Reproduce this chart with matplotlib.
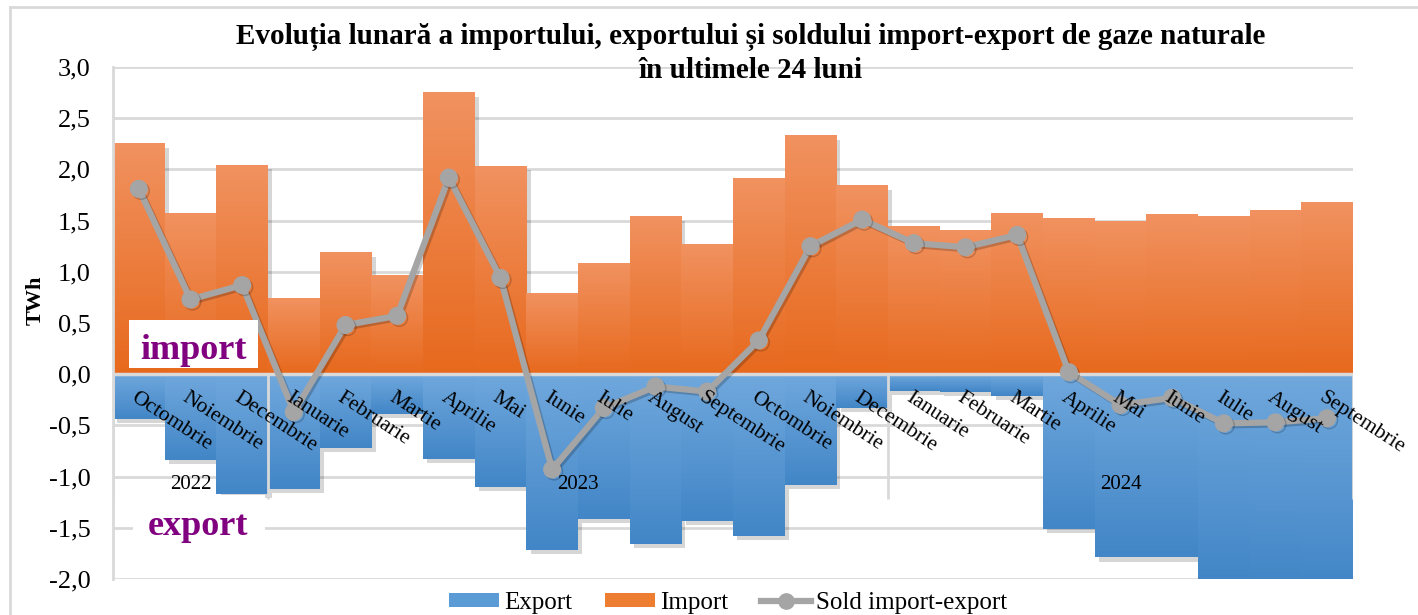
import numpy as np
import matplotlib
matplotlib.use("Agg")
import matplotlib.pyplot as plt
from matplotlib.colors import LinearSegmentedColormap
from matplotlib.patches import Rectangle, Patch
from matplotlib.lines import Line2D
from matplotlib.ticker import FuncFormatter
import matplotlib.patheffects as pe

# ---------------- data ----------------
months = ["Octombrie", "Noiembrie", "Decembrie", "Ianuarie", "Februarie", "Martie",
          "Aprilie", "Mai", "Iunie", "Iulie", "August", "Septembrie",
          "Octombrie", "Noiembrie", "Decembrie", "Ianuarie", "Februarie", "Martie",
          "Aprilie", "Mai", "Iunie", "Iulie", "August", "Septembrie"]
years = ["2022", "2023", "2024"]
months_per_year = [3, 12, 9]

import_vals = [2.25, 1.57, 2.04, 0.74, 1.19, 0.96, 2.75, 2.03, 0.79, 1.08, 1.54, 1.26,
               1.91, 2.33, 1.84, 1.44, 1.40, 1.57, 1.52, 1.49, 1.56, 1.54, 1.60, 1.67]
export_vals = [-0.44, -0.84, -1.17, -1.12, -0.72, -0.39, -0.83, -1.10, -1.72, -1.41, -1.66, -1.43,
               -1.58, -1.08, -0.33, -0.16, -0.17, -0.21, -1.51, -1.79, -1.79, -2.02, -2.07, -2.10]
sold_vals = [1.81, 0.73, 0.87, -0.37, 0.48, 0.57, 1.92, 0.94, -0.93, -0.33, -0.12, -0.17,
             0.33, 1.25, 1.51, 1.28, 1.24, 1.36, 0.02, -0.30, -0.23, -0.48, -0.47, -0.43]

title_text = "Evoluția lunară a importului, exportului și soldului import-export de gaze naturale\nîn ultimele 24 luni"

# ---------------- style ----------------
SERIF = ["Liberation Serif", "DejaVu Serif"]
plt.rcParams["font.family"] = SERIF
GRID = "#D9D9D9"
ORANGE = "#ED7D31"
BLUE = "#5B9BD5"
GRAY = "#A5A5A5"
PURPLE = "#800080"

cmap_or = LinearSegmentedColormap.from_list("or", ["#F19260", "#E7691D"])
cmap_bl = LinearSegmentedColormap.from_list("bl", ["#70A8DD", "#4286C7"])

W, H = 1418, 615
fig = plt.figure(figsize=(W / 100, H / 100), dpi=100)
ax = fig.add_axes([113 / W, 1 - 579 / H, (1353 - 113) / W, (579 - 67) / H])

x = np.arange(len(months))

shadow = [pe.SimplePatchShadow(offset=(3, -3), shadow_rgbFace="k", alpha=0.16), pe.Normal()]
b_exp = ax.bar(x, export_vals, width=1.0, color=BLUE, zorder=2, path_effects=shadow)
b_imp = ax.bar(x, import_vals, width=1.0, color=ORANGE, zorder=2, path_effects=shadow)

grad = np.linspace(0, 1, 256).reshape(-1, 1)
for bars, cm in ((b_exp, cmap_bl), (b_imp, cmap_or)):
    for r in bars:
        x0 = r.get_x()
        x1 = x0 + r.get_width()
        y0 = r.get_y()
        y1 = y0 + r.get_height()
        lo, hi = min(y0, y1), max(y0, y1)
        ax.imshow(grad, extent=(x0, x1, lo, hi), origin="upper", aspect="auto",
                  cmap=cm, zorder=2.2, interpolation="bilinear")

# zero line
ax.axhline(0, color=GRID, lw=2.5, zorder=2.5)

# category group separators
bounds = np.concatenate([[0], np.cumsum(months_per_year)]) - 0.5
ax.vlines(bounds, -1.22, 0, color=GRID, lw=2, zorder=2.6)

# sold line
ax.plot(x, sold_vals, color=GRAY, lw=4.5, marker="o", ms=12, mfc=GRAY, mec=GRAY,
        zorder=4, solid_capstyle="round",
        path_effects=[pe.SimpleLineShadow(offset=(1.5, -1.5), shadow_color="k", alpha=0.2), pe.Normal()])

# month labels
for i, m in enumerate(months):
    ax.text(i - 0.02, -0.14, m, rotation=-33, rotation_mode="anchor", ha="left", va="top",
            fontsize=15.5, color="black", zorder=5)

# year labels
start = 0
for yr, n in zip(years, months_per_year):
    ax.text(start + (n - 1) / 2, -1.08, yr, ha="center", va="center", fontsize=15, zorder=5)
    start += n

# import / export text boxes
ax.add_patch(Rectangle((-0.19, 0.06), 2.5, 0.47, facecolor="white", edgecolor="none", zorder=6))
ax.text(1.06, 0.15, "import", ha="center", va="baseline", fontsize=26, weight="bold",
        color=PURPLE, zorder=7)
ax.add_patch(Rectangle((-0.11, -1.52), 2.55, 0.345, facecolor="white", edgecolor="none", zorder=6))
ax.text(1.15, -1.57, "export", ha="center", va="baseline", fontsize=26, weight="bold",
        color=PURPLE, zorder=7)

# axes styling
ax.set_xlim(-0.5, len(months) - 0.5)
ax.set_ylim(-2.0, 3.0)
ax.set_yticks(np.arange(-2.0, 3.01, 0.5))
ax.yaxis.set_major_formatter(FuncFormatter(lambda v, p: f"{round(v, 1):.1f}".replace(".", ",").replace("-0,0", "0,0")))
ax.set_xticks([])
ax.tick_params(axis="y", length=0, pad=16, labelsize=19)
ax.set_axisbelow(True)
ax.yaxis.grid(True, color=GRID, lw=2, zorder=0)
for s in ("top", "right", "bottom"):
    ax.spines[s].set_visible(False)
ax.spines["left"].set_color(GRID)
ax.spines["left"].set_linewidth(2)

# title and y label
lines = title_text.split("\n")
fig.text(751 / W, 1 - 37 / H, lines[0], ha="center", va="center", fontsize=21, weight="bold")
fig.text(751 / W, 1 - 70 / H, lines[1], ha="center", va="center", fontsize=21, weight="bold")
fig.text(36 / W, 1 - 300 / H, "TWh", rotation=90, ha="center", va="center", fontsize=16, weight="bold")

# outer chart border (left and top edges visible)
fig.add_artist(Line2D([10 / W, 10 / W], [0, 1 - 7 / H], transform=fig.transFigure, color=GRID, lw=2))
fig.add_artist(Line2D([10 / W, 1], [1 - 7 / H, 1 - 7 / H], transform=fig.transFigure, color=GRID, lw=2))

# legend
handles = [Patch(facecolor=BLUE, edgecolor="none", label="Export"),
           Patch(facecolor=ORANGE, edgecolor="none", label="Import"),
           Line2D([], [], color=GRAY, lw=4.5, marker="o", ms=11, label="Sold import-export")]
fig.legend(handles=handles, loc="center", bbox_to_anchor=(728 / W, 1 - 603 / H), ncol=3,
           frameon=False, fontsize=18, handlelength=2.0, handleheight=0.5, handletextpad=0.2,
           columnspacing=1.3, borderpad=0, borderaxespad=0)

fig.savefig("out.png", dpi=100)
